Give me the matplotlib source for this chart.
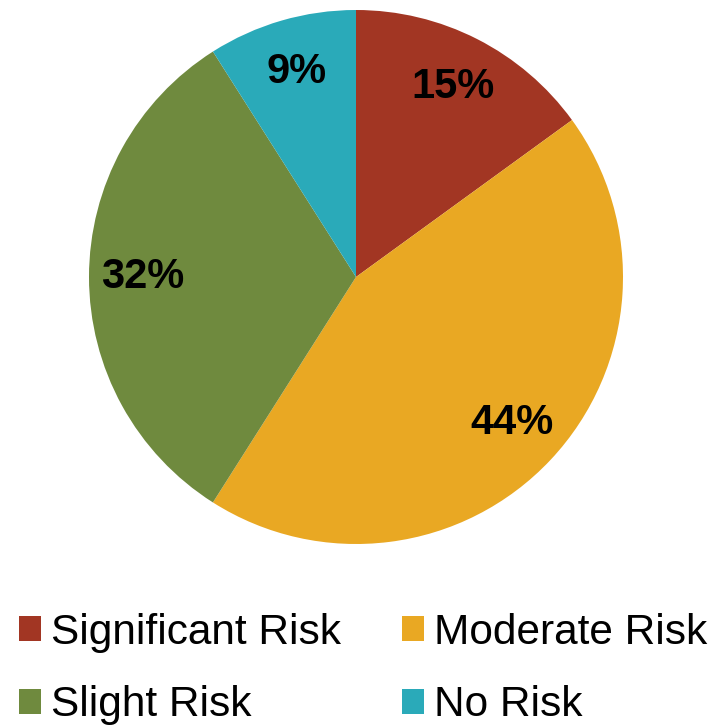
import matplotlib
matplotlib.use('Agg')
import matplotlib.pyplot as plt
from matplotlib.patches import Rectangle

plt.rcParams['font.family'] = ['Liberation Sans', 'DejaVu Sans']

# Risk categories and their share of responses (%)
categories = ['Significant Risk', 'Moderate Risk', 'Slight Risk', 'No Risk']
shares = [15, 44, 32, 9]
colors = ['#A23623', '#E9A823', '#6F8A3E', '#2AAAB9']

fig = plt.figure(figsize=(7.25, 7.26), dpi=100)
ax = fig.add_axes([89 / 725, 1 - 544 / 726, 534 / 725, 534 / 726])

wedges, texts, autotexts = ax.pie(shares, colors=colors, startangle=90,
                                  counterclock=False, autopct='%1.0f%%',
                                  pctdistance=0.8, radius=1,
                                  wedgeprops=dict(linewidth=0))
for t in autotexts:
    t.set_fontsize(30)
    t.set_fontweight('bold')
    t.set_color('black')
ax.set_xlim(-1, 1)
ax.set_ylim(-1, 1)
ax.set_aspect('equal')
ax.axis('off')

# Legend with square markers, filled row by row in two columns
handles = [Rectangle((0, 0), 1, 1, facecolor=c, edgecolor='none') for c in colors]
order = [0, 2, 1, 3]
fig.legend([handles[i] for i in order], [categories[i] for i in order],
           ncol=2, loc='center',
           bbox_to_anchor=(0.5007, 0.0785), frameon=False, fontsize=30.5,
           handlelength=0.52, handleheight=0.52, handletextpad=0.24,
           columnspacing=1.43, labelspacing=0.77, borderpad=0)

fig.savefig('out.png', dpi=100)
